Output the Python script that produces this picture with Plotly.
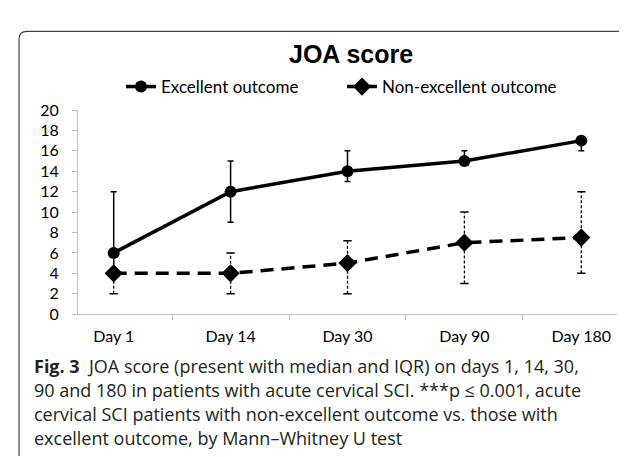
import plotly.graph_objects as go

W, H = 627, 457

days = ["Day 1", "Day 14", "Day 30", "Day 90", "Day 180"]
exc_median = [6, 12, 14, 15, 17]
exc_q1 = [4, 9, 13, 15, 16]
exc_q3 = [12, 15, 16, 16, 17]
non_median = [4, 4, 5, 7, 7.5]
non_q1 = [2, 2, 2, 3, 4]
non_q3 = [6, 6, 7.2, 10, 12]
y_ticks = list(range(0, 21, 2))

title_text = "<b>JOA score</b>"
caption_lines = [
    "<b>Fig. 3</b>  JOA score (present with median and IQR) on days 1, 14, 30,",
    "90 and 180 in patients with acute cervical SCI. ***p ≤ 0.001, acute",
    "cervical SCI patients with non-excellent outcome vs. those with",
    "excellent outcome, by Mann–Whitney U test",
]


def px(x):
    return x / W


def py(y):
    return 1 - y / H


fig = go.Figure()

# Excellent outcome
fig.add_trace(go.Scatter(
    x=days, y=exc_median, name="Excellent outcome", mode="lines+markers",
    line=dict(color="black", width=3.5),
    marker=dict(symbol="circle", size=12, color="black"),
    error_y=dict(type="data", symmetric=False,
                 array=[h - m for h, m in zip(exc_q3, exc_median)],
                 arrayminus=[m - l for m, l in zip(exc_median, exc_q1)],
                 color="black", thickness=1.5, width=3),
))

# Non-excellent IQR bars (dashed) built from data
ex, ey = [], []
for d, lo, hi in zip(days, non_q1, non_q3):
    ex += [d, d, None]
    ey += [lo, hi, None]
fig.add_trace(go.Scatter(
    x=ex, y=ey, mode="lines", showlegend=False, hoverinfo="skip",
    line=dict(color="black", width=1.3, dash="3px,2px"),
))
fig.add_trace(go.Scatter(
    x=days + days, y=non_q1 + non_q3, mode="markers", showlegend=False,
    hoverinfo="skip",
    marker=dict(symbol="line-ew", size=6, line=dict(color="black", width=1.5)),
))

# Non-excellent outcome
fig.add_trace(go.Scatter(
    x=days, y=non_median, name="Non-excellent outcome", mode="lines+markers",
    line=dict(color="black", width=3.5, dash="13px,8px"),
    marker=dict(symbol="diamond", size=14, color="black"),
))

x0, x1 = 70, 609
ytop, ybot = 96, 309

fig.update_layout(
    width=W, height=H,
    margin=dict(l=0, r=0, t=0, b=0),
    paper_bgcolor="white", plot_bgcolor="white",
    font=dict(family="Lato", size=16, color="black"),
    showlegend=True,
    legend=dict(orientation="h", x=px(113), y=py(72), xanchor="left",
                yanchor="middle", font=dict(family="Lato", size=17),
                itemwidth=30, entrywidth=176, tracegroupgap=0),
    xaxis=dict(domain=[px(x0), px(x1)], type="category",
               showline=True, linecolor="#bfbfbf", linewidth=1,
               ticks="outside", ticklen=5, tickcolor="#bfbfbf",
               tickson="boundaries", showgrid=False, zeroline=False,
               ticklabelstandoff=8, tickfont=dict(size=16)),
    yaxis=dict(domain=[py(ybot), py(ytop)], range=[0, 20],
               tickvals=y_ticks, showline=True, linecolor="#bfbfbf",
               linewidth=1, ticks="outside", ticklen=5, tickcolor="#bfbfbf",
               showgrid=False, zeroline=False, ticklabelstandoff=10,
               tickfont=dict(size=16)),
)

fig.add_annotation(text=title_text, xref="paper", yref="paper",
                   x=px(342.5), y=py(38), xanchor="center", yanchor="middle",
                   showarrow=False,
                   font=dict(family="Liberation Sans", size=25, color="black"))

cap_y = [363, 388, 413, 438]
for t, yy in zip(caption_lines, cap_y):
    fig.add_annotation(text=t, xref="paper", yref="paper", x=px(24),
                       y=py(yy), xanchor="left", yanchor="middle",
                       showarrow=False, align="left",
                       font=dict(family="Open Sans", size=18, color="#231f20"))

# frame with rounded top-left corner
fig.add_shape(type="path", xref="paper", yref="paper",
              path=f"M {px(11)},{py(457)} L {px(11)},{py(22)} Q {px(11)},{py(14)} {px(19)},{py(14)} L {px(627)},{py(14)}",
              line=dict(color="#444", width=1.2))

fig.write_html("out.html")
